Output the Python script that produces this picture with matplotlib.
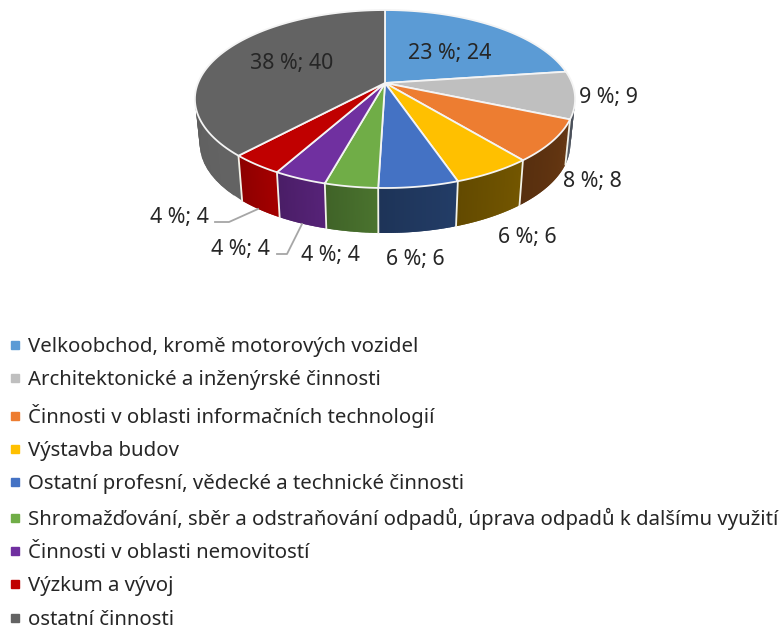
#!/usr/bin/env python

""" 3D looking pie chart of activities with legend below """

import numpy as np
import matplotlib
matplotlib.use("Agg")
import matplotlib.pyplot as plt
from matplotlib.colors import to_rgb
from matplotlib.lines import Line2D
from matplotlib.patches import Polygon

categories = ["Velkoobchod, kromě motorových vozidel",
              "Architektonické a inženýrské činnosti",
              "Činnosti v oblasti informačních technologií",
              "Výstavba budov",
              "Ostatní profesní, vědecké a technické činnosti",
              "Shromažďování, sběr a odstraňování odpadů, úprava odpadů k dalšímu využití",
              "Činnosti v oblasti nemovitostí",
              "Výzkum a vývoj",
              "ostatní činnosti"]
values = [24, 9, 8, 6, 6, 4, 4, 4, 40]
colors = ["#5b9bd5", "#bfbfbf", "#ed7d31", "#ffc000", "#4472c4",
          "#70ad47", "#7030a0", "#c00000", "#636363"]
wall_colors = ["#3a6d9c", "#4f5560", "#5f3310", "#6b5000", "#20385f",
               "#456b2b", "#50206f", "#980000", "#5c5c5c"]
label_pos = [(450, 54), (608, 98), (592, 182), (527, 237), (415, 260),
             (330, 255), (240, 249), (179, 218), (292, 63)]
leaders = [([215, 229, 258], [222, 222, 209]),
           ([277, 287, 302], [254, 254, 224])]

FONT = "Noto Sans"
CX, CY = 385, 83        # pie centre on screen
RX, RY = 187, 86.1      # radii of the projected disc
TILT = -0.18            # perspective factor
DEPTH = 45              # wall height


def project(t):
    """ angle clockwise from 12 o'clock -> screen position of the top rim """
    u, v = np.sin(t), -np.cos(t)
    w = 1 + TILT * v
    return CX + RX * u / w, CY + RY * v / w


def wall_bottom(x, y):
    """ lower rim is slightly narrower than the top one """
    return CX + (x - CX) * 0.975, y + DEPTH


def main():
    """ main body """
    fig = plt.figure(figsize=(7.81, 6.29), dpi=100)
    ax = fig.add_axes([0, 0, 1, 1])
    ax.set_xlim(0, 781)
    ax.set_ylim(629, 0)
    ax.axis("off")

    total = sum(values)
    edges = np.cumsum([0] + values) / total * 2 * np.pi

    # walls first, only the part of each slice on the front side
    for i in range(len(values)):
        t0, t1 = edges[i], edges[i + 1]
        ts = np.linspace(t0, t1, 40)
        for j in range(len(ts) - 1):
            if np.cos(ts[j]) > 0.02 and np.cos(ts[j + 1]) > 0.02:
                continue
            # each quad overlaps the next one so no moire shows up
            x0, y0 = project(ts[j])
            x1, y1 = project(ts[min(j + 2, len(ts) - 1)])
            x2, y2 = wall_bottom(x1, y1)
            x3, y3 = wall_bottom(x0, y0)
            shade = 1.08 - 0.16 * j / (len(ts) - 1)
            col = np.clip(np.array(to_rgb(wall_colors[i])) * shade, 0, 1)
            ax.add_patch(Polygon([(x0, y0), (x1, y1), (x2, y2), (x3, y3)],
                                 closed=True, fc=col, ec="none", zorder=2))
        # white seam between the walls
        if np.cos(t1) < 0:
            x, y = project(t1)
            bx, by = wall_bottom(x, y)
            ax.plot([x, bx], [y, by], color="#f2f2e8", lw=1.3, zorder=3)

    # top surface
    for i in range(len(values)):
        ts = np.linspace(edges[i], edges[i + 1], 80)
        xs, ys = project(ts)
        pts = [(CX, CY)] + list(zip(xs, ys))
        ax.add_patch(Polygon(pts, closed=True, fc=colors[i], ec="#f4f4f4",
                             lw=1.3, joinstyle="round", zorder=4))

    for xs, ys in leaders:
        ax.plot(xs, ys, color="#a6a6a6", lw=1.3, zorder=3)

    for val, (x, y) in zip(values, label_pos):
        pct = round(100 * val / total)
        ax.text(x, y, f"{pct} %; {val}", ha="center", va="center",
                fontsize=15.4, color="#262626", family=FONT, zorder=5)

    handles = [Line2D([], [], ls="none", marker="s", ms=5.6, mfc=c, mec=c) for c in colors]
    ax.legend(handles, categories, loc="upper left", bbox_to_anchor=(5 / 781, 1 - 337 / 629),
              frameon=False, borderpad=0, borderaxespad=0, handlelength=1.0,
              handletextpad=0.15, labelspacing=0.655, labelcolor="#262626",
              prop={"family": FONT, "size": 14.65})

    fig.savefig("out.png", dpi=100)
    plt.close()


if __name__ == "__main__":
    main()
